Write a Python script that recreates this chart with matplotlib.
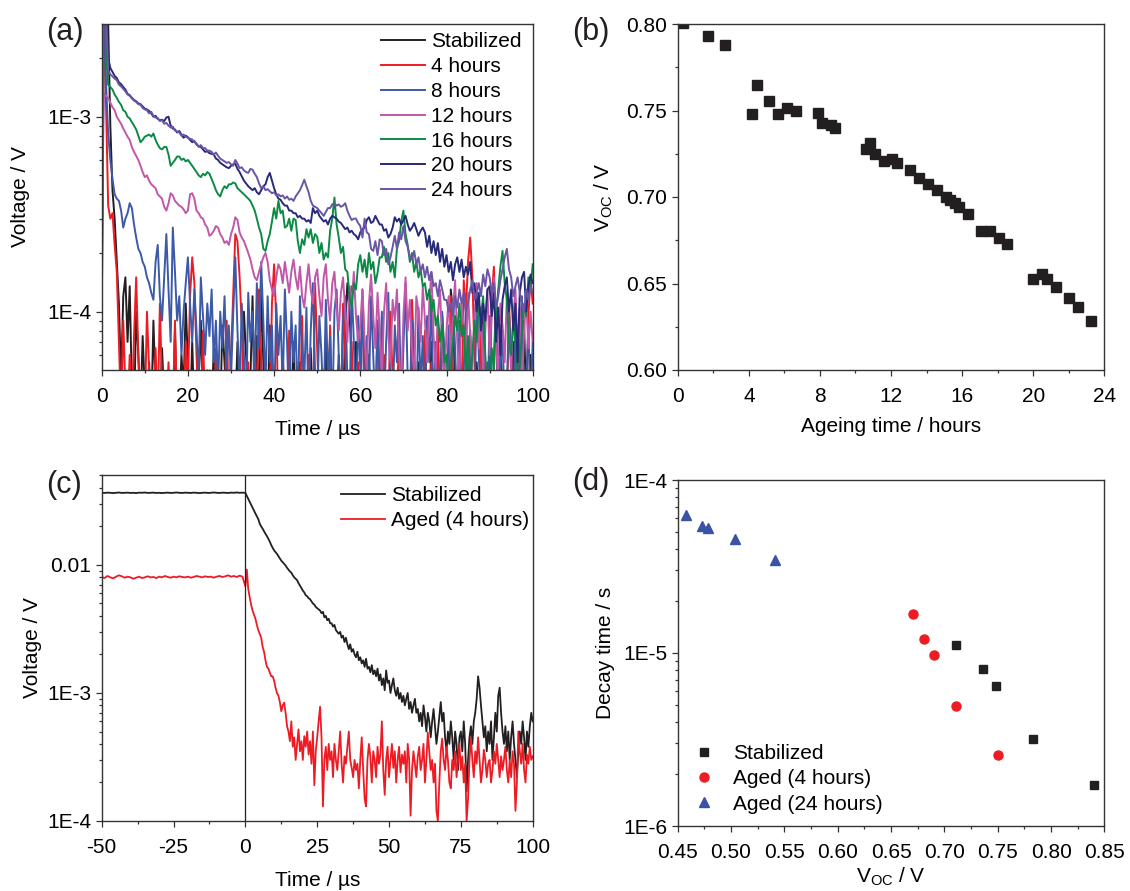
import numpy as np
import matplotlib
matplotlib.use("Agg")
import matplotlib.pyplot as plt
from matplotlib.ticker import LogLocator, NullFormatter, MultipleLocator, FormatStrFormatter

# ---------------- panel (a): transient voltage traces, values in microvolts, 0.5 us steps
T_STEP_A = 0.5
v_stab_uV = [80, 4000, 4000, 3000, 900, 420, 300, 180, 110, 45,
             120, 150, 70, 135, 40, 30, 100, 60, 30, 75,
             40, 30, 55, 30, 90, 40, 30, 30, 65, 35,
             30, 30, 45, 30, 80, 30, 30, 60, 40, 110,
             55, 30, 70, 30, 30, 45, 90, 30, 30, 50,
             30, 30, 65, 30, 40, 30, 85, 55, 30, 30,
             45, 30, 30, 70, 30, 30, 100, 60, 30, 45,
             120, 30, 75, 30, 130, 55, 30, 30, 85, 30,
             30, 50, 30, 30, 60, 30, 30, 45, 30, 70,
             30, 30, 55, 30, 30, 40, 30, 65, 30, 30,
             30, 45, 30, 30, 75, 30, 30, 50, 30, 30,
             60, 30, 30, 85, 140, 100, 55, 30, 70, 30,
             30, 45, 30, 30, 60, 30, 30, 40, 30, 30,
             75, 30, 30, 50, 30, 30, 45, 30, 65, 30,
             30, 40, 30, 30, 80, 30, 30, 55, 30, 30,
             45, 30, 30, 70, 30, 30, 50, 30, 95, 60,
             30, 30, 130, 100, 40, 30, 60, 30, 30, 45,
             30, 80, 30, 30, 55, 30, 30, 100, 30, 30,
             65, 30, 30, 45, 30, 85, 30, 30, 50, 30,
             30, 70, 30, 30, 45, 30, 90, 30, 30, 60,
             30]
v_4h_uV = [150, 4000, 1200, 350, 300, 320, 220, 160, 70, 30,
           90, 40, 30, 60, 30, 75, 150, 60, 30, 45,
           30, 100, 50, 30, 30, 65, 30, 110, 40, 30,
           30, 55, 30, 30, 90, 30, 45, 30, 30, 70,
           40, 120, 190, 140, 60, 30, 30, 80, 30, 30,
           50, 30, 30, 65, 30, 30, 45, 30, 90, 30,
           60, 120, 250, 230, 150, 85, 30, 30, 55, 30,
           30, 70, 30, 130, 60, 30, 30, 45, 30, 110,
           175, 90, 30, 30, 60, 30, 30, 80, 30, 30,
           45, 30, 30, 95, 30, 30, 60, 30, 30, 140,
           65, 30, 30, 50, 30, 30, 85, 30, 30, 45,
           30, 30, 110, 60, 30, 30, 70, 30, 30, 55,
           30, 130, 60, 30, 30, 45, 30, 30, 90, 30,
           30, 60, 30, 30, 100, 45, 30, 30, 75, 30,
           30, 50, 30, 30, 115, 60, 30, 30, 45, 30,
           80, 30, 30, 55, 30, 30, 95, 30, 30, 60,
           30, 30, 120, 50, 30, 30, 70, 30, 145, 100,
           180, 240, 150, 60, 30, 30, 90, 30, 30, 55,
           30, 120, 170, 80, 30, 30, 50, 30, 30, 110,
           60, 30, 30, 85, 30, 30, 45, 30, 95, 150,
           110]
v_8h_uV = [300, 4000, 1500, 820, 600, 480, 400, 380, 370, 330,
           270, 300, 320, 360, 340, 280, 240, 210, 200, 180,
           170, 150, 140, 125, 115, 180, 220, 120, 90, 150,
           250, 130, 70, 270, 160, 90, 120, 60, 100, 140,
           190, 110, 70, 130, 80, 45, 150, 95, 60, 110,
           75, 130, 55, 90, 40, 100, 65, 120, 50, 85,
           45, 95, 190, 80, 40, 110, 60, 30, 125, 70,
           100, 45, 140, 65, 180, 90, 40, 120, 55, 85,
           30, 110, 60, 95, 40, 130, 70, 30, 100, 55,
           85, 30, 120, 60, 45, 105, 30, 80, 140, 50,
           30, 95, 60, 30, 115, 45, 75, 30, 100, 130,
           60, 30, 90, 120, 45, 30, 135, 70, 30, 95,
           50, 110, 30, 75, 40, 120, 60, 30, 90, 45,
           100, 30, 70, 125, 40, 30, 85, 55, 110, 30,
           65, 140, 45, 30, 90, 60, 30, 105, 40, 75,
           30, 95, 55, 120, 30, 70, 45, 30, 100, 60,
           30, 85, 40, 115, 65, 30, 90, 30, 50, 105,
           30, 75, 40, 30, 120, 60, 30, 85, 45, 30,
           95, 30, 60, 110, 30, 50, 80, 30, 40, 100,
           55, 30, 90, 30, 65, 120, 30, 45, 85, 30,
           70]
v_12h_uV = [230, 1320, 1280, 1250, 1180, 1120, 1080, 1000, 960, 920,
            870, 830, 790, 760, 700, 660, 630, 600, 560, 520,
            490, 500, 470, 450, 440, 430, 400, 390, 380, 345,
            330, 360, 405, 395, 370, 360, 350, 345, 335, 320,
            330, 400, 405, 380, 330, 320, 305, 300, 280, 270,
            245, 250, 260, 275, 270, 250, 240, 225, 230, 220,
            250, 270, 305, 295, 255, 240, 230, 215, 200, 185,
            165, 150, 145, 160, 175, 190, 200, 180, 145, 130,
            120, 150, 175, 165, 140, 180, 150, 125, 160, 185,
            150, 130, 170, 120, 105, 140, 175, 130, 110, 150,
            165, 120, 95, 150, 175, 115, 90, 140, 160, 105,
            80, 125, 150, 100, 70, 135, 110, 160, 95, 70,
            85, 130, 70, 50, 110, 155, 95, 65, 125, 80,
            45, 100, 140, 75, 55, 115, 90, 130, 60, 40,
            95, 150, 80, 115, 65, 45, 120, 100, 70, 135,
            90, 55, 110, 160, 75, 50, 95, 130, 65, 40,
            80, 120, 55, 100, 145, 70, 45, 110, 85, 60,
            125, 75, 50, 95, 140, 65, 105, 45, 80, 130,
            60, 100, 150, 70, 45, 110, 85, 55, 120, 75,
            50, 95, 130, 60, 105, 40, 80, 115, 65, 100,
            70]
v_16h_uV = [150, 4000, 2200, 1460, 1420, 1380, 1300, 1250, 1190, 1150,
            1080, 1060, 1000, 980, 940, 900, 860, 800, 740, 760,
            790, 800, 810, 790, 820, 760, 720, 690, 680, 700,
            700, 640, 560, 580, 600, 625, 625, 600, 610, 590,
            600, 580, 560, 540, 520, 500, 490, 510, 500, 520,
            510, 480, 450, 420, 400, 390, 420, 440, 430, 450,
            450, 460, 455, 430, 420, 410, 400, 390, 380, 370,
            350, 330, 300, 270, 250, 210, 205, 230, 250, 290,
            340, 300, 370, 320, 330, 270, 275, 300, 260, 300,
            295, 230, 200, 235, 220, 265, 240, 265, 225, 250,
            242, 200, 225, 185, 200, 190, 260, 300, 385, 280,
            240, 200, 215, 165, 160, 120, 105, 140, 130, 175,
            195, 160, 185, 150, 200, 165, 180, 140, 158, 190,
            190, 215, 180, 200, 160, 180, 150, 210, 230, 290,
            330, 250, 220, 180, 200, 160, 180, 150, 165, 135,
            140, 115, 130, 100, 115, 85, 95, 70, 85, 55,
            60, 40, 55, 70, 95, 80, 110, 75, 85, 50,
            75, 45, 60, 90, 70, 110, 95, 120, 60, 40,
            40, 65, 50, 95, 130, 170, 205, 140, 115, 70,
            60, 90, 70, 40, 50, 80, 110, 95, 150, 130,
            175]
v_20h_uV = [300, 4000, 4000, 2000, 1780, 1700, 1620, 1580, 1500, 1470,
            1420, 1380, 1310, 1290, 1250, 1220, 1200, 1170, 1160, 1130,
            1100, 1090, 1070, 1040, 1000, 1010, 975, 960, 965, 950,
            990, 1000, 900, 870, 860, 830, 845, 810, 780, 800,
            785, 760, 740, 750, 720, 705, 700, 680, 660, 665,
            650, 645, 640, 610, 600, 580, 570, 560, 550, 545,
            560, 570, 575, 540, 520, 495, 470, 455, 440, 430,
            420, 430, 410, 400, 420, 440, 450, 490, 515, 470,
            430, 400, 380, 375, 360, 350, 350, 330, 330, 320,
            320, 305, 310, 300, 300, 290, 295, 285, 340, 320,
            330, 310, 300, 290, 295, 280, 300, 310, 305, 300,
            290, 285, 275, 265, 270, 255, 260, 250, 245, 235,
            255, 265, 270, 295, 305, 285, 290, 310, 295, 280,
            280, 260, 265, 240, 250, 270, 305, 290, 300, 280,
            295, 310, 280, 260, 270, 285, 265, 245, 260, 270,
            255, 215, 245, 200, 230, 195, 225, 180, 210, 170,
            195, 160, 180, 145, 175, 190, 160, 185, 150, 170,
            155, 180, 125, 140, 100, 125, 80, 110, 90, 130,
            135, 95, 125, 70, 105, 60, 115, 135, 150, 100,
            130, 80, 110, 55, 125, 150, 160, 100, 135, 155,
            140]
v_24h_uV = [80, 4000, 3400, 1720, 1650, 1610, 1570, 1540, 1460, 1430,
            1390, 1350, 1300, 1280, 1240, 1210, 1190, 1160, 1150, 1110,
            1090, 1080, 1040, 1060, 1010, 990, 985, 950, 960, 920,
            930, 900, 880, 890, 850, 840, 830, 800, 810, 790,
            780, 770, 765, 740, 730, 700, 715, 690, 690, 670,
            670, 660, 640, 655, 630, 610, 600, 590, 580, 585,
            570, 560, 600, 575, 545, 550, 530, 520, 515, 540,
            535, 510, 490, 455, 430, 440, 420, 425, 415, 405,
            410, 395, 400, 390, 395, 380, 390, 375, 380, 370,
            390, 405, 420, 445, 475, 440, 410, 370, 350, 345,
            340, 330, 320, 310, 325, 340, 340, 355, 360, 350,
            355, 345, 350, 360, 330, 310, 295, 300, 300, 285,
            275, 240, 300, 255, 250, 210, 205, 230, 195, 235,
            230, 195, 210, 175, 190, 215, 245, 210, 255, 235,
            275, 230, 215, 190, 185, 205, 175, 190, 160, 175,
            150, 170, 145, 160, 135, 140, 120, 145, 130, 115,
            115, 100, 110, 95, 120, 105, 130, 110, 125, 100,
            110, 130, 145, 115, 125, 140, 120, 155, 135, 165,
            150, 125, 140, 105, 120, 145, 165, 190, 210, 165,
            150, 120, 135, 150, 125, 110, 100, 130, 115, 135,
            125]
labels_a = ["Stabilized", "4 hours", "8 hours", "12 hours",
            "16 hours", "20 hours", "24 hours"]

# ---------------- panel (b): Voc vs ageing time
ageing_h = [0.3, 1.71, 2.68, 4.18, 4.45, 5.16, 5.66, 6.17, 6.66, 7.88,
            8.12, 8.61, 8.87, 10.6, 10.84, 11.1, 11.59, 12.08, 12.34, 13.06,
            13.56, 14.07, 14.56, 15.07, 15.31, 15.57, 15.82, 16.30, 17.04, 17.54,
            18.05, 18.54, 20.0, 20.51, 20.79, 21.28, 22.01, 22.50, 23.25]
voc_b = [0.8003, 0.7933, 0.788, 0.748, 0.765, 0.7557, 0.748, 0.7516, 0.750, 0.7487,
         0.7428, 0.7414, 0.7399, 0.7275, 0.731, 0.7249, 0.7208, 0.7222, 0.7195, 0.7154,
         0.7112, 0.7075, 0.704, 0.7002, 0.6983, 0.6965, 0.6944, 0.690, 0.6801, 0.6805,
         0.6765, 0.6726, 0.6526, 0.6555, 0.6528, 0.6482, 0.6414, 0.6366, 0.6285]

# ---------------- panel (c): full transients, values in mV
c_stab_pre_mV = [36.6, 36.5, 36.7, 36.6, 36.4, 36.6, 36.8, 36.5, 36.6, 36.7,
                 36.5, 36.6, 36.4, 36.7, 36.6, 36.8, 36.5, 36.6, 36.7, 36.5,
                 36.6, 36.4, 36.6, 36.7, 36.5, 36.6, 36.8, 36.6, 36.5, 36.7,
                 36.6, 36.5, 36.7, 36.6, 36.4, 36.6, 36.7, 36.5, 36.6, 36.8,
                 36.6, 36.5, 36.7, 36.6, 36.5, 36.7, 36.6, 36.8, 36.6, 36.7]
c_aged_pre_mV = [8.05, 7.9, 8.2, 8.0, 7.85, 8.1, 8.3, 8.15, 7.95, 8.1,
                 8.0, 7.8, 7.95, 8.1, 7.9, 8.0, 8.15, 8.0, 8.05, 7.9,
                 8.1, 8.0, 8.2, 8.05, 7.95, 8.1, 8.0, 8.15, 8.05, 8.0,
                 8.1, 7.95, 8.05, 8.2, 8.1, 8.0, 8.15, 8.05, 8.1, 7.95,
                 8.1, 8.2, 8.05, 8.15, 8.3, 8.1, 8.2, 8.05, 8.25, 8.1]
c_stab_post_mV = [36.5, 34.6, 32.8, 31.0, 29.5, 28.0, 26.6, 25.2, 24.0, 22.8,
                  21.0, 20.0, 19.2, 18.3, 17.5, 16.8, 16.0, 15.2, 14.3, 13.6,
                  13.0, 12.6, 12.2, 11.7, 11.2, 10.8, 10.5, 10.2, 9.9, 9.5,
                  9.2, 8.9, 8.7, 8.3, 8.0, 7.8, 7.6, 7.2, 6.9, 6.6,
                  6.3, 6.1, 5.8, 5.7, 5.5, 5.4, 5.2, 5.0, 4.9, 4.7,
                  4.6, 4.5, 4.4, 4.2, 4.3, 3.9, 4.0, 3.7, 3.8, 3.5,
                  3.5, 3.3, 3.4, 3.1, 3.0, 2.9, 3.0, 2.7, 2.8, 2.5,
                  2.7, 2.4, 2.2, 2.4, 2.1, 2.2, 2.0, 1.9, 2.1, 1.8,
                  1.9, 1.7, 1.8, 1.6, 1.85, 1.55, 1.6, 1.45, 1.65, 1.4,
                  1.5, 1.35, 1.55, 1.25, 1.4, 1.15, 1.3, 1.05, 1.5, 1.2,
                  1.25, 1.0, 1.15, 1.3, 1.05, 0.95, 1.1, 0.9, 1.0, 0.85,
                  0.95, 0.8, 0.9, 1.0, 0.75, 0.85, 0.7, 0.8, 0.9, 0.7,
                  0.75, 0.6, 0.7, 0.55, 0.8, 0.65, 0.5, 0.7, 0.6, 0.45,
                  0.6, 0.75, 0.55, 0.4, 0.5, 0.65, 0.85, 0.6, 0.7, 0.45,
                  0.35, 0.5, 0.4, 0.6, 0.45, 0.3, 0.5, 0.4, 0.25, 0.45,
                  0.5, 0.35, 0.6, 0.4, 0.17, 0.3, 0.45, 0.55, 0.4, 0.6,
                  0.7, 0.9, 1.35, 1.1, 0.8, 0.6, 0.45, 0.55, 0.35, 0.5,
                  0.4, 0.6, 0.3, 0.45, 0.7, 0.5, 0.95, 1.1, 0.7, 0.5,
                  0.4, 0.55, 0.35, 0.5, 0.3, 0.45, 0.6, 0.4, 0.3, 0.22,
                  0.35, 0.5, 0.4, 0.6, 0.45, 0.3, 0.5, 0.38, 0.55, 0.7,
                  0.6]
c_aged_post_mV = [6.8, 9.2, 6.5, 5.6, 4.9, 4.4, 4.1, 3.8, 3.4, 3.1,
                  2.9, 2.7, 2.3, 2.1, 1.8, 1.6, 1.55, 1.45, 1.35, 1.35,
                  1.25, 1.1, 1.0, 0.95, 0.85, 0.72, 0.8, 0.84, 0.7, 0.55,
                  0.5, 0.42, 0.6, 0.38, 0.45, 0.3, 0.4, 0.52, 0.35, 0.42,
                  0.3, 0.46, 0.38, 0.5, 0.33, 0.42, 0.28, 0.5, 0.19, 0.35,
                  0.45, 0.6, 0.78, 0.45, 0.13, 0.3, 0.38, 0.25, 0.4, 0.3,
                  0.35, 0.22, 0.4, 0.3, 0.25, 0.35, 0.5, 0.28, 0.2, 0.32,
                  0.28, 0.38, 0.5, 0.3, 0.26, 0.22, 0.3, 0.25, 0.28, 0.18,
                  0.3, 0.45, 0.25, 0.15, 0.13, 0.3, 0.4, 0.32, 0.2, 0.35,
                  0.3, 0.22, 0.38, 0.28, 0.33, 0.6, 0.25, 0.16, 0.3, 0.38,
                  0.22, 0.3, 0.4, 0.26, 0.35, 0.2, 0.3, 0.38, 0.24, 0.33,
                  0.28, 0.35, 0.2, 0.4, 0.3, 0.11, 0.25, 0.35, 0.28, 0.22,
                  0.32, 0.38, 0.25, 0.3, 0.4, 0.2, 0.3, 0.49, 0.35, 0.25,
                  0.3, 0.2, 0.28, 0.12, 0.1, 0.2, 0.35, 0.44, 0.3, 0.25,
                  0.38, 0.3, 0.2, 0.18, 0.3, 0.25, 0.35, 0.22, 0.3, 0.4,
                  0.25, 0.32, 0.2, 0.28, 0.1, 0.15, 0.3, 0.45, 0.3, 0.22,
                  0.35, 0.28, 0.45, 0.3, 0.2, 0.25, 0.36, 0.3, 0.22, 0.28,
                  0.3, 0.2, 0.25, 0.35, 0.28, 0.4, 0.3, 0.22, 0.32, 0.25,
                  0.3, 0.38, 0.25, 0.2, 0.3, 0.22, 0.35, 0.28, 0.12, 0.2,
                  0.5, 0.35, 0.28, 0.4, 0.25, 0.2, 0.33, 0.28, 0.38, 0.3,
                  0.32]

# ---------------- panel (d): decay time vs Voc
voc_stab = [0.7113, 0.7362, 0.7481, 0.7835, 0.8406]
tau_stab = [1.107e-5, 8.12e-6, 6.45e-6, 3.20e-6, 1.73e-6]
voc_4h = [0.6704, 0.6806, 0.6907, 0.7106, 0.7504]
tau_4h = [1.68e-5, 1.205e-5, 9.74e-6, 4.94e-6, 2.57e-6]
voc_24h = [0.4578, 0.473, 0.4787, 0.5033, 0.5408]
tau_24h = [6.30e-5, 5.45e-5, 5.26e-5, 4.58e-5, 3.44e-5]

# ---------------- styling
colors_a = ["#231f20", "#ed1c24", "#3d5aa8", "#c057a8", "#0c8a45", "#262a78", "#6b55a5"]
BLACK = "#231f20"
RED = "#ed1c24"
BLUE = "#3a53a4"
FS = 15

plt.rcParams['font.family'] = ['Liberation Sans', 'DejaVu Sans']
plt.rcParams['font.size'] = FS
plt.rcParams['axes.unicode_minus'] = False
plt.rcParams['mathtext.fontset'] = 'custom'
plt.rcParams['mathtext.rm'] = 'Liberation Sans'
plt.rcParams['mathtext.it'] = 'Liberation Sans:italic'
plt.rcParams['axes.linewidth'] = 1.0
plt.rcParams['axes.edgecolor'] = '#333333'

W, H = 1130, 891
fig = plt.figure(figsize=(W / 100, H / 100), dpi=100)


def px_axes(l, t, r, b):
    return fig.add_axes([l / W, 1 - b / H, (r - l) / W, (b - t) / H])


def style_ticks(ax):
    ax.tick_params(which='both', direction='out', top=False, right=False,
                   color='#333333', labelsize=FS, width=0.9)
    ax.tick_params(which='major', length=4.0)
    ax.tick_params(which='minor', length=2.3)
    ax.tick_params(axis='x', which='major', pad=8)
    ax.tick_params(axis='y', which='major', pad=3.5)


def log_minor(ax):
    ax.yaxis.set_minor_locator(LogLocator(base=10, subs=np.arange(2, 10)))
    ax.yaxis.set_minor_formatter(NullFormatter())


ax_a = px_axes(101.7, 24, 532.7, 370)
ax_b = px_axes(677.7, 24, 1104.4, 370)
ax_c = px_axes(101.7, 475, 532.7, 821)
ax_d = px_axes(677.7, 480, 1104.4, 826)

# (a)
traces_a = [v_stab_uV, v_4h_uV, v_8h_uV, v_12h_uV, v_16h_uV, v_20h_uV, v_24h_uV]
for vals, col, lab in zip(traces_a, colors_a, labels_a):
    t = np.arange(len(vals)) * T_STEP_A
    ax_a.plot(t, np.array(vals) * 1e-6, color=col, lw=1.4, label=lab)
ax_a.set_yscale('log')
ax_a.set_xlim(0, 100)
ax_a.set_ylim(5.02e-5, 2.99e-3)
ax_a.set_yticks([1e-4, 1e-3], ["1E-4", "1E-3"])
log_minor(ax_a)
ax_a.xaxis.set_major_locator(MultipleLocator(20))
ax_a.xaxis.set_minor_locator(MultipleLocator(10))
ax_a.set_xlabel("Time / \u00b5s", labelpad=10)
ax_a.set_ylabel("Voltage / V", labelpad=12)
style_ticks(ax_a)
ax_a.legend(loc='upper left', bbox_to_anchor=(0.649, 0.976), frameon=False,
            borderaxespad=0, borderpad=0, handlelength=2.1, handletextpad=0.3,
            labelspacing=0.28, fontsize=FS)

# (b)
ax_b.plot(ageing_h, voc_b, 's', color=BLACK, ms=6.5, mec=BLACK)
ax_b.set_xlim(0, 24)
ax_b.set_ylim(0.60, 0.80)
ax_b.xaxis.set_major_locator(MultipleLocator(4))
ax_b.xaxis.set_minor_locator(MultipleLocator(2))
ax_b.yaxis.set_major_locator(MultipleLocator(0.05))
ax_b.yaxis.set_minor_locator(MultipleLocator(0.025))
ax_b.yaxis.set_major_formatter(FormatStrFormatter('%.2f'))
ax_b.set_xlabel("Ageing time / hours", labelpad=8)
ax_b.set_ylabel(r"V$_{\mathrm{OC}}$ / V", labelpad=8)
style_ticks(ax_b)

# (c)
t_pre = np.arange(-50, 0, 1.0)
t_post = np.arange(len(c_stab_post_mV)) * 0.5
ax_c.plot(np.concatenate([t_pre, t_post]),
          np.concatenate([c_stab_pre_mV, c_stab_post_mV]) * 1e-3,
          color=BLACK, lw=1.3, label="Stabilized")
ax_c.plot(np.concatenate([t_pre, t_post]),
          np.concatenate([c_aged_pre_mV, c_aged_post_mV]) * 1e-3,
          color=RED, lw=1.3, label="Aged (4 hours)")
ax_c.axvline(0, color=BLACK, lw=0.9)
ax_c.set_yscale('log')
ax_c.set_xlim(-50, 100)
ax_c.set_ylim(1e-4, 0.0504)
ax_c.set_yticks([1e-4, 1e-3, 1e-2], ["1E-4", "1E-3", "0.01"])
log_minor(ax_c)
ax_c.xaxis.set_major_locator(MultipleLocator(25))
ax_c.xaxis.set_minor_locator(MultipleLocator(12.5))
ax_c.set_xlabel("Time / \u00b5s", labelpad=10)
ax_c.set_ylabel("Voltage / V", labelpad=4)
style_ticks(ax_c)
ax_c.legend(loc='upper left', bbox_to_anchor=(0.555, 0.968), frameon=False,
            borderaxespad=0, borderpad=0, handlelength=2.1, handletextpad=0.3,
            labelspacing=0.3, fontsize=FS)

# (d)
ax_d.plot(voc_stab, tau_stab, 's', color=BLACK, ms=5.5, label="Stabilized")
ax_d.plot(voc_4h, tau_4h, 'o', color=RED, ms=6.5, label="Aged (4 hours)")
ax_d.plot(voc_24h, tau_24h, '^', color=BLUE, ms=7, label="Aged (24 hours)")
ax_d.set_yscale('log')
ax_d.set_xlim(0.45, 0.85)
ax_d.set_ylim(1e-6, 1e-4)
ax_d.set_yticks([1e-6, 1e-5, 1e-4], ["1E-6", "1E-5", "1E-4"])
log_minor(ax_d)
ax_d.xaxis.set_major_locator(MultipleLocator(0.05))
ax_d.xaxis.set_minor_locator(MultipleLocator(0.025))
ax_d.xaxis.set_major_formatter(FormatStrFormatter('%.2f'))
ax_d.set_xlabel(r"V$_{\mathrm{OC}}$ / V", labelpad=3)
ax_d.set_ylabel("Decay time / s", labelpad=6)
style_ticks(ax_d)
ax_d.legend(loc='lower left', bbox_to_anchor=(0.038, 0.036), frameon=False,
            borderaxespad=0, borderpad=0, handlelength=1.0, handletextpad=0.9,
            labelspacing=0.3, fontsize=FS, numpoints=1)

# panel letters
for txt, x, y in [("(a)", 46, 32), ("(b)", 572, 32), ("(c)", 46, 485), ("(d)", 572, 482)]:
    fig.text(x / W, 1 - y / H, txt, fontsize=22, ha='left', va='center', color=BLACK)

fig.savefig("out.png", dpi=100)
